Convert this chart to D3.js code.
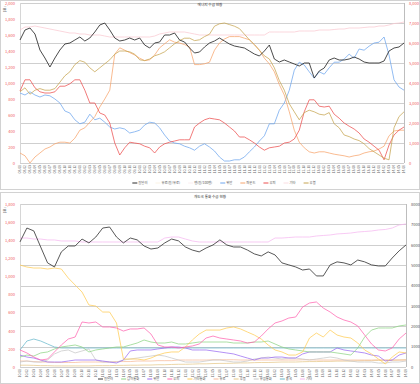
<!DOCTYPE html>
<html>
<head>
<meta charset="utf-8">
<script src="https://cdn.jsdelivr.net/npm/d3@7"></script>
<style>
body { margin: 0; background: #fff; }
svg text { font-family: "Noto Sans CJK KR", "Noto Sans", sans-serif; }
</style>
</head>
<body>
<svg id="chart" width="420" height="384"></svg>
<script>
// ---- top chart data ----
const topDates = ("08.01 08.02 08.03 08.04 08.05 08.06 08.07 08.08 08.09 08.10 08.11 08.12 " +
  "09.01 09.02 09.03 09.04 09.05 09.06 09.07 09.08 09.09 09.10 09.11 09.12 " +
  "10.01 10.02 10.03 10.04 10.05 10.06 10.07 10.08 10.09 10.10 10.11 10.12 " +
  "11.01 11.02 11.03 11.04 11.05 11.06 11.07 11.08 11.09 11.10 11.11 11.12 " +
  "12.01 12.02 12.03 12.04 12.05 12.06 12.07 12.08 12.09 12.10 12.11 12.12 " +
  "13.01 13.02 13.03 13.04 13.05 13.06 13.07 13.08 13.09 13.10 13.11 13.12 " +
  "14.01 14.02 14.03 14.04 14.05 14.06").split(" ");

// right axis
const topKrw = [6150,6650,6750,6450,5650,5250,4800,5250,5650,5950,6000,6150,6300,6100,6250,6550,6900,7000,6650,6250,
  6100,6150,6250,6150,6250,5900,5750,6000,6050,6400,6400,6500,6150,6050,5750,5500,5550,5800,6000,6100,
  6250,6100,5950,5850,5800,5750,5600,5450,5350,5600,5900,5200,5050,5150,5050,4950,4850,5000,5000,4250,
  4600,4750,5150,5250,5150,5150,5200,5300,5200,5050,5000,5000,5000,5100,5600,5750,5800,6000];
const topEtc = [6650,6800,6800,6850,6800,6750,6700,6650,6600,6550,6500,6500,6450,6450,6400,6400,6400,6350,
  6300,6300,6300,6300,6300,6300,6300,6300,6300,6350,6450,6500,6550,6550,6550,6550,6500,6450,
  6400,6400,6400,6400,6400,6400,6400,6400,6400,6400,6400,6400,6400,6400,6550,6550,6550,6550,6550,6550,
  6600,6600,6600,6600,6650,6650,6650,6675,6700,6700,6750,6750,6750,6775,6800,6800,6850,6850,6900,6975,7000,7050];
// left axis
const topRub = [890,940,860,910,930,910,910,930,1010,1090,1140,1230,1280,1260,1190,1140,1190,1240,1290,1360,
  1400,1400,1390,1360,1290,1280,1300,1340,1360,1390,1440,1490,1530,1560,1560,1530,1540,1580,1610,1710,
  1740,1750,1730,1710,1680,1610,1540,1480,1410,1340,1300,1190,1030,910,740,640,540,630,660,640,
  610,600,630,490,440,350,330,300,280,240,180,140,100,60,40,440,580,640];
const topGbp = [125,90,0,75,125,175,200,240,260,260,250,310,410,440,510,580,700,800,910,1360,
  1440,1410,1380,1350,1310,1280,1290,1350,1440,1490,1540,1510,1500,1480,1450,1230,1230,1240,1260,1410,
  1500,1550,1580,1580,1580,1560,1540,1480,1410,1310,1240,1140,980,850,640,410,260,190,140,125,
  140,140,125,110,100,90,75,90,100,125,140,150,175,210,340,400,410,410];
const topInr = [900,1040,1040,940,890,875,875,890,960,960,990,1040,1040,910,750,750,625,600,500,250,
  100,190,260,250,240,210,190,125,200,240,260,275,290,290,290,450,500,540,560,550,
  540,500,450,400,325,325,290,250,200,160,190,200,210,250,260,300,410,640,790,790,
  710,700,710,610,560,500,460,425,375,300,260,210,160,40,225,350,410,450];
const topCny = [875,850,890,850,825,850,840,800,750,650,625,540,490,510,610,540,560,510,450,425,
  440,425,375,390,410,475,510,500,440,350,275,250,240,210,190,160,210,240,200,150,
  75,25,25,40,40,75,140,200,275,340,490,490,660,750,910,1160,1260,1225,1140,1060,
  1140,1110,1190,1260,1260,1300,1360,1310,1425,1410,1460,1500,1510,1575,1350,1040,950,910];
const topNames = ["원달러", "유로(원/유로)", "엔(원/100엔)", "위안", "파운드", "루피", "기타", "루블"];
const topColors = ["#2b2b2b", "#fbf3e4", "#fbeef0", "#6ea6ee", "#f7a46c", "#ec4f4f", "#fadde2", "#c6a450"];

// ---- bottom chart data ----
const botDates = ("10.01 10.02 10.03 10.04 10.05 10.06 10.07 10.08 10.09 10.10 10.11 10.12 " +
  "11.01 11.02 11.03 11.04 11.05 11.06 11.07 11.08 11.09 11.10 11.11 11.12 " +
  "12.01 12.02 12.03 12.04 12.05 12.06 12.07 12.08 12.09 12.10 12.11 12.12 " +
  "13.01 13.02 13.03 13.04 13.05 13.06 13.07 13.08 13.09 13.10 13.11 13.12 " +
  "14.01 14.02 14.03 14.04 14.05 14.06 14.07 14.08 14.09").split(" ");
// right axis
const botKrw = [6140,6820,6680,5890,5110,4910,5650,5940,5940,6280,6090,6380,6820,6870,6380,6090,6330,6240,5940,5790,
  5840,6090,6280,6190,5890,5740,5650,5840,5990,6240,5990,5890,5890,5740,5550,5450,5650,5500,5110,5010,
  4910,4760,4810,4470,4470,5010,5160,5110,5010,5250,5160,5010,4960,4960,5350,5700,5990];
const botEtc = [6330,6330,6280,6280,6235,6235,6185,6185,6185,6135,6135,6135,6135,6135,6135,6135,6135,6135,6135,6135,
  6135,6330,6380,6380,6280,6185,6135,6135,6135,6135,6135,6135,6135,6135,6135,6135,6135,6330,6330,6355,
  6380,6380,6380,6430,6455,6480,6530,6550,6575,6625,6650,6675,6725,6750,6820,6970,7020];
// left axis
const botLatam = [110,132,121,155,166,199,221,232,243,221,166,188,199,210,221,221,243,265,298,276,
  265,265,276,254,254,265,276,276,276,276,276,265,265,265,276,276,287,254,221,199,
  188,177,166,166,166,166,155,144,132,210,331,408,431,431,431,453,464];
const botCny = [132,110,99,77,55,55,55,66,77,77,77,77,66,55,44,77,177,188,188,188,
  199,210,221,221,210,188,188,188,177,166,155,144,121,99,77,99,99,110,110,99,
  99,144,166,166,166,166,210,188,177,166,155,132,121,66,77,132,155];
const botInr = [188,155,110,77,88,166,243,309,331,497,486,497,442,442,431,397,420,420,431,364,
  243,221,221,210,221,232,254,320,342,320,309,298,287,265,276,342,420,486,508,541,
  552,662,707,718,651,607,552,519,497,453,353,254,188,177,210,309,375];
const botOther = [1126,1104,1093,1093,1082,1093,1082,983,905,828,685,673,607,607,486,88,88,88,77,99,
  132,155,166,166,221,298,364,408,408,408,431,442,420,386,353,309,243,188,166,132,
  132,166,320,375,331,408,353,331,320,265,188,144,88,33,110,166,155];
const botEur = [66,66,60,55,55,50,50,50,50,55,55,55,55,55,60,60,60,66,66,66,
  70,70,70,77,77,77,77,77,80,80,80,80,77,77,77,77,77,77,77,77,
  77,80,80,77,77,77,77,77,77,77,77,77,80,77,77,77,77];
const botRub = [20,20,18,15,15,12,12,12,12,12,12,15,15,15,18,18,20,20,22,22,
  25,25,28,30,30,32,35,35,38,40,40,42,45,45,48,50,50,52,55,55,
  55,58,60,60,62,62,65,65,65,68,70,70,72,75,75,77,80];
const botEuro2 = [55,66,55,55,77,144,177,188,155,177,199,77,55,55,55,77,88,99,110,121,
  132,121,99,77,55,55,55,66,77,77,66,55,55,66,88,99,110,99,88,99,
  99,88,77,88,99,110,99,77,66,55,55,55,44,44,55,55,66];
const botChn = [188,287,309,287,254,221,210,210,210,210,210,210,210,210,210,210,210,210,210,210,
  210,210,210,210,210,210,210,210,210,210,210,210,210,210,210,210,210,210,210,210,
  210,210,210,210,210,210,210,210,210,210,210,210,210,210,210,210,210];
const botNames = ["원달러", "남미통화", "위안", "루피", "기타통화", "유로", "루블", "유럽통화", "중국", "기타"];
const botColors = ["#3a3a3a", "#8fd486", "#9b6cf2", "#ff66b0", "#ffcc55", "#f7b99a", "#e6c88a", "#c8c8c8", "#6bb9cc", "#f5b8f0"];

const svg = d3.select("#chart");
const red = "#f05a5a";

function panel(o) {
    const g = svg.append("g");

    g.append("rect")
        .attr("x", 0.5).attr("y", o.boxTop + 0.5)
        .attr("width", 419).attr("height", o.boxH)
        .attr("fill", "#fff").attr("stroke", "#d2d2d2");

    const x = d3.scalePoint().domain(o.dates).range([o.left, o.right]);
    const yL = d3.scaleLinear().domain([0, o.leftMax]).range([o.bottom, o.top]);
    const yR = d3.scaleLinear().domain([0, 8000]).range([o.bottom, o.top]);

    // grid
    g.append("g").selectAll("line")
        .data(yR.ticks(8))
        .join("line")
        .attr("x1", o.left).attr("x2", o.right)
        .attr("y1", d => Math.round(yR(d)) + 0.5).attr("y2", d => Math.round(yR(d)) + 0.5)
        .attr("stroke", "#cfcfcf");

    // axes lines
    g.append("line").attr("x1", o.left + 0.5).attr("x2", o.left + 0.5)
        .attr("y1", o.top).attr("y2", o.bottom).attr("stroke", "#d6d6d6");
    g.append("line").attr("x1", o.right + 0.5).attr("x2", o.right + 0.5)
        .attr("y1", o.top).attr("y2", o.bottom).attr("stroke", "#bdbdbd");

    const ax = g.append("g")
        .attr("transform", "translate(" + (o.left - 2) + ",0)")
        .call(d3.axisLeft(yL).tickValues(d3.range(0, o.leftMax + 1, 200)).tickSize(0).tickFormat(d3.format(",")));
    ax.select(".domain").remove();
    ax.selectAll("text").attr("font-size", 4).attr("fill", red)
        .attr("font-family", "'Noto Sans', sans-serif");

    const ar = g.append("g")
        .attr("transform", "translate(" + (o.right + 2) + ",0)")
        .call(d3.axisRight(yR).ticks(8).tickSize(0).tickFormat(o.rightFmt));
    ar.select(".domain").remove();
    ar.selectAll("text").attr("font-size", 4).attr("fill", o.rightColor)
        .attr("font-family", "'Noto Sans', sans-serif");

    // x labels
    g.append("g").selectAll("text")
        .data(o.dates)
        .join("text")
        .attr("transform", d => "translate(" + x(d) + "," + (o.bottom + 2) + ") rotate(-90)")
        .attr("text-anchor", "end")
        .attr("dy", "0.35em")
        .attr("font-size", 3.4)
        .attr("fill", "#666")
        .text(d => d);

    // title and unit
    g.append("text").attr("x", 210).attr("y", o.boxTop + 6)
        .attr("text-anchor", "middle").attr("font-size", 3.6).attr("fill", "#333")
        .text(o.title);
    g.append("text")
        .attr("transform", "translate(6," + (o.top + 6) + ") rotate(-90)")
        .attr("text-anchor", "middle").attr("font-size", 3.6).attr("fill", "#444")
        .text("(원)");

    // lines
    o.series.forEach(s => {
        const sc = s.axis === "R" ? yR : yL;
        g.append("path")
            .datum(s.values)
            .attr("fill", "none")
            .attr("stroke", s.color)
            .attr("stroke-width", s.width || 0.75)
            .attr("stroke-linejoin", "round")
            .attr("d", d3.line().x((d, i) => x(o.dates[i])).y(d => sc(d)));
    });

    // legend
    const lg = g.append("g");
    let pos = 0;
    o.names.forEach((n, i) => {
        const e = lg.append("g").attr("transform", "translate(" + pos + "," + o.legendY + ")");
        e.append("line").attr("x1", 0).attr("x2", 5)
            .attr("stroke", o.colors[i]).attr("stroke-width", 1);
        const t = e.append("text").attr("x", 6).attr("dy", "0.35em")
            .attr("font-size", 3.3).attr("fill", "#555").text(n);
        pos += 6 + t.node().getComputedTextLength() + 8;
    });
    lg.attr("transform", "translate(" + (o.legendX - pos / 2) + ",0)");
}

panel({
    boxTop: 0, boxH: 189, top: 3, bottom: 163, left: 20, right: 404,
    dates: topDates, leftMax: 2000,
    rightFmt: d3.format(","), rightColor: red,
    title: "에너지 수급 현황",
    legendY: 183, legendX: 228,
    names: topNames, colors: topColors,
    series: [
        {values: topEtc, axis: "R", color: "#f9c9d2"},
        {values: topCny, axis: "L", color: topColors[3]},
        {values: topGbp, axis: "L", color: topColors[4]},
        {values: topInr, axis: "L", color: topColors[5]},
        {values: topRub, axis: "L", color: topColors[7]},
        {values: topKrw, axis: "R", color: topColors[0], width: 0.85}
    ]
});

panel({
    boxTop: 192, boxH: 191, top: 204, bottom: 367, left: 20, right: 406,
    dates: botDates, leftMax: 1800,
    rightFmt: d3.format("d"), rightColor: "#555",
    title: "개도국 통화 수급 현황",
    legendY: 379, legendX: 209,
    names: botNames, colors: botColors,
    series: [
        {values: botRub, axis: "L", color: botColors[6]},
        {values: botEur, axis: "L", color: botColors[5]},
        {values: botEuro2, axis: "L", color: botColors[7]},
        {values: botChn, axis: "L", color: botColors[8]},
        {values: botCny, axis: "L", color: botColors[2]},
        {values: botLatam, axis: "L", color: botColors[1]},
        {values: botOther, axis: "L", color: botColors[4]},
        {values: botInr, axis: "L", color: botColors[3]},
        {values: botEtc, axis: "R", color: botColors[9]},
        {values: botKrw, axis: "R", color: botColors[0], width: 0.85}
    ]
});
</script>
</body>
</html>
